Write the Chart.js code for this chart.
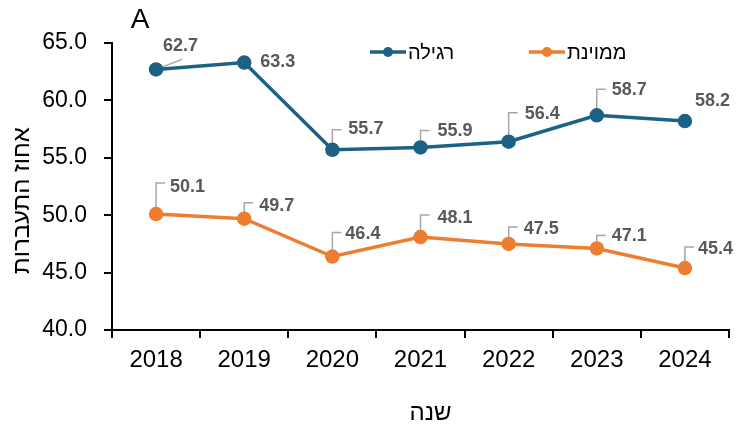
<!DOCTYPE html>
<html>
<head>
<meta charset="utf-8">
<script src="https://cdn.jsdelivr.net/npm/chart.js@4.4.1/dist/chart.umd.min.js"></script>
<style>
  html, body { margin: 0; padding: 0; background: #ffffff; }
  #wrap { width: 747px; height: 428px; position: relative; }
</style>
</head>
<body>
<div id="wrap"><canvas id="c" width="747" height="428"></canvas></div>
<script>
// ---- data ----
const years = ['2018', '2019', '2020', '2021', '2022', '2023', '2024'];
const regular = [62.7, 63.3, 55.7, 55.9, 56.4, 58.7, 58.2];
const sorted = [50.1, 49.7, 46.4, 48.1, 47.5, 47.1, 45.4];
const seriesNames = ['רגילה', 'ממוינת'];
const yTicks = [40, 45, 50, 55, 60, 65];
const yTitle = 'אחוז התעברות';
const xTitle = 'שנה';
const panelLetter = 'A';

// ---- styling ----
const FONT = '"Liberation Sans", Arial, sans-serif';
const BLUE = '#1d6184';
const ORANGE = '#ed7d31';
const LABEL_GRAY = '#595959';
const LEADER_GRAY = '#a6a6a6';

// label placement (offsets from the point, in px): [dx to label left, dy to label centre, leader type, leader top]
const labelPlacement = [
  [[7, -23, 'diag', 0], [16, 0, 'none', 0], [16, -21, 'bracket', -20], [17, -16, 'bracket', -17],
   [16, -28, 'bracket', -29], [15, -25, 'bracket', -26], [10, -20, 'none', 0]],
  [[14, -27, 'bracket', -31], [15, -13, 'bracket', -16], [13, -22, 'bracket', -24], [17, -19, 'bracket', -22],
   [15, -15, 'bracket', -17], [15, -12, 'bracket', -13], [13, -19, 'bracket', -21]]
];

const leaderPlugin = {
  id: 'leaders',
  beforeDatasetsDraw(chart) {
    const ctx = chart.ctx;
    ctx.save();
    ctx.strokeStyle = LEADER_GRAY;
    ctx.lineWidth = 1.5;
    chart.data.datasets.forEach((ds, di) => {
      const meta = chart.getDatasetMeta(di);
      meta.data.forEach((pt, i) => {
        const pl = labelPlacement[di][i];
        ctx.beginPath();
        if (pl[2] === 'bracket') {
          ctx.moveTo(pt.x, pt.y);
          ctx.lineTo(pt.x, pt.y + pl[3]);
          ctx.lineTo(pt.x + 9, pt.y + pl[3]);
          ctx.stroke();
        } else if (pl[2] === 'diag') {
          ctx.moveTo(pt.x, pt.y);
          ctx.lineTo(pt.x + 26, pt.y - 10);
          ctx.stroke();
        }
      });
    });
    ctx.restore();
  },
  afterDatasetsDraw(chart) {
    const ctx = chart.ctx;
    ctx.save();
    ctx.fillStyle = LABEL_GRAY;
    ctx.font = 'bold 18px ' + FONT;
    ctx.textAlign = 'left';
    ctx.textBaseline = 'middle';
    chart.data.datasets.forEach((ds, di) => {
      const meta = chart.getDatasetMeta(di);
      meta.data.forEach((pt, i) => {
        const pl = labelPlacement[di][i];
        ctx.fillText(ds.data[i].toFixed(1), pt.x + pl[0], pt.y + pl[1]);
      });
    });
    ctx.restore();
  }
};

const decorPlugin = {
  id: 'decor',
  afterDraw(chart) {
    const ctx = chart.ctx;
    const a = chart.chartArea;
    ctx.save();
    ctx.fillStyle = '#000000';
    ctx.textBaseline = 'middle';
    // panel letter
    ctx.font = '28px ' + FONT;
    ctx.textAlign = 'center';
    ctx.fillText(panelLetter, 140, 20);
    // x title
    ctx.font = '24px ' + FONT;
    ctx.fillText(xTitle, (a.left + a.right) / 2 + 10, 413);
    // y title
    ctx.save();
    ctx.translate(22, (a.top + a.bottom) / 2 + 14);
    ctx.rotate(-Math.PI / 2);
    ctx.fillText(yTitle, 0, 0);
    ctx.restore();
    // legend
    const items = [{ x: 370 }, { x: 529 }];
    ctx.font = '20px ' + FONT;
    ctx.textAlign = 'left';
    chart.data.datasets.forEach((ds, di) => {
      const x0 = items[di].x, y0 = 52;
      ctx.strokeStyle = ds.borderColor;
      ctx.lineWidth = 3.5;
      ctx.beginPath();
      ctx.moveTo(x0, y0);
      ctx.lineTo(x0 + 36, y0);
      ctx.stroke();
      ctx.fillStyle = ds.borderColor;
      ctx.beginPath();
      ctx.arc(x0 + 18, y0, 5, 0, Math.PI * 2);
      ctx.fill();
      ctx.fillStyle = '#000000';
      ctx.fillText(ds.label, x0 + 38, y0 + 1);
    });
    ctx.restore();
  }
};

new Chart(document.getElementById('c'), {
  type: 'line',
  data: {
    labels: years,
    datasets: [
      { label: seriesNames[0], data: regular, borderColor: BLUE, backgroundColor: BLUE,
        borderWidth: 3.5, pointRadius: 5.5, pointHoverRadius: 5.5, tension: 0 },
      { label: seriesNames[1], data: sorted, borderColor: ORANGE, backgroundColor: ORANGE,
        borderWidth: 3.5, pointRadius: 5.5, pointHoverRadius: 5.5, tension: 0 }
    ]
  },
  options: {
    responsive: false,
    animation: false,
    devicePixelRatio: 1,
    layout: { padding: { top: 43, right: 18, left: 0, bottom: 0 } },
    plugins: { legend: { display: false }, tooltip: { enabled: false } },
    scales: {
      x: {
        offset: true,
        grid: { offset: true, drawOnChartArea: false, drawTicks: true, tickLength: 8, color: '#000000', lineWidth: 2 },
        border: { display: true, color: '#000000', width: 2 },
        ticks: { color: '#000000', font: { family: FONT, size: 24 }, padding: 8, maxRotation: 0 },
        afterFit(scale) { scale.height = 98; }
      },
      y: {
        min: yTicks[0], max: yTicks[yTicks.length - 1],
        afterBuildTicks(scale) { scale.ticks = yTicks.map(v => ({ value: v })); },
        grid: { drawOnChartArea: false, drawTicks: true, tickLength: 8, color: '#000000', lineWidth: 2 },
        border: { display: true, color: '#000000', width: 2 },
        ticks: { color: '#000000', font: { family: FONT, size: 23 }, padding: 17,
                 callback: v => Number(v).toFixed(1) },
        afterFit(scale) { scale.width = 112; }
      }
    }
  },
  plugins: [leaderPlugin, decorPlugin]
});
</script>
</body>
</html>
